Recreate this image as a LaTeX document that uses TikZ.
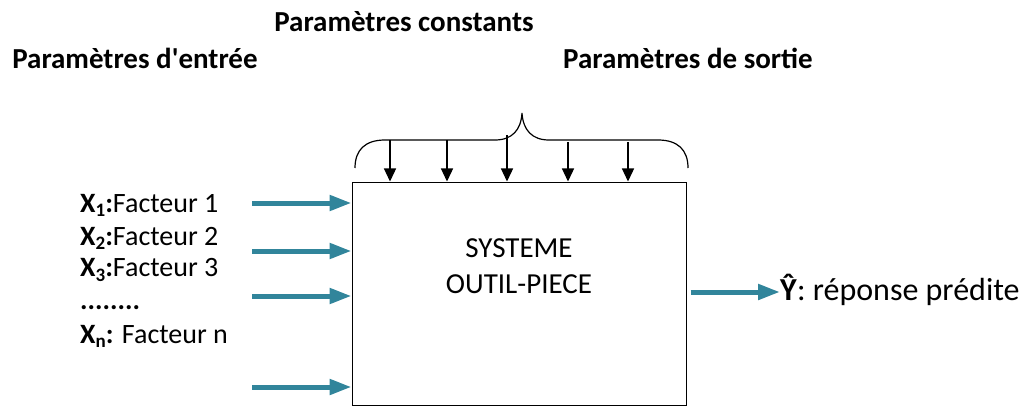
\documentclass[tikz,border=0pt]{standalone}
\usepackage{fontspec}
\setmainfont{Carlito}
\usetikzlibrary{arrows.meta}

\definecolor{tealarr}{RGB}{49,133,155}
\newcommand{\facsub}[1]{\raisebox{-0.3ex}{\fontsize{19}{19}\selectfont\bfseries #1}}

\tikzset{
  inarrow/.style={draw=tealarr, line width=5pt, -{Triangle[length=22pt,width=15pt]}},
  downarrow/.style={draw=black, line width=1.3pt, -{Triangle[length=13pt,width=12pt]}},
  titletext/.style={font=\fontsize{29}{34}\selectfont\bfseries, inner sep=0pt},
  factext/.style={font=\fontsize{28}{30}\selectfont, anchor=west, inner sep=0pt},
}

\begin{document}
\begin{tikzpicture}[x=1pt,y=1pt,yscale=-1,xscale=1]
\useasboundingbox (0,0) rectangle (1024,406);

% Text Node
\node[titletext] (tconst) at (404,22) {Paramètres constants};
% Text Node
\node[titletext] (tin) at (135,58) {Paramètres d\textquotesingle entrée};
% Text Node
\node[titletext] (tout) at (688,58) {Paramètres de sortie};

%Shape: Rectangle
\node[draw, line width=1pt, minimum width=334pt, minimum height=223pt, inner sep=0pt] (sys) at (519,293.5) {};
% Text Node
\node[font=\fontsize{29}{36}\selectfont, align=center] (syslabel) at (519,266) {SYSTEME\\OUTIL-PIECE};

%Shape: Brace
\draw[line width=1.2pt] (355,168) .. controls (355,150) and (365,140) .. (385,140) -- (495,140) .. controls (512,140) and (521,130) .. (522,113) .. controls (523,130) and (532,140) .. (549,140) -- (658,140) .. controls (678,140) and (688,150) .. (688,168) ;

%Straight Lines
\foreach \xx/\yy [count=\i] in {390/140, 447/140, 507/135, 568/142, 628/142}{
  \coordinate (c\i) at (\xx,\yy);
  \draw[downarrow] (c\i) -- (c\i |- sys.north);
}

% Text Node
\node[factext] (x1) at (80,205) {\textbf{X\facsub{1}:}Facteur 1};
\node[factext] (x2) at (80,238) {\textbf{X\facsub{2}:}Facteur 2};
\node[factext] (x3) at (80,270) {\textbf{X\facsub{3}:}Facteur 3};
\node[factext] (xd) at (80,308) {\textbf{........}};
\node[factext] (xn) at (80,336) {\textbf{X\facsub{n}:} Facteur n};

%Straight Lines
\foreach \yy [count=\i] in {203,251,296,387}{
  \coordinate (a\i) at (252,\yy);
  \draw[inarrow] (a\i) -- (a\i -| sys.west);
}

% Text Node
\node[font=\fontsize{32}{36}\selectfont, anchor=west, inner sep=0pt] (yhat) at (780,290) {\textbf{Ŷ}: réponse prédite};
%Straight Lines
\draw[inarrow] (sys.east |- yhat.west) ++(4,2) coordinate (b1) -- (yhat.west |- b1);

\end{tikzpicture}
\end{document}
